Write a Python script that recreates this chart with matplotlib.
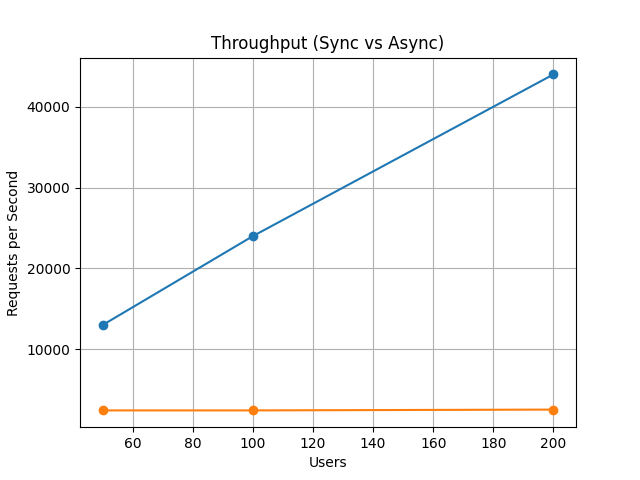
import matplotlib
matplotlib.use("Agg")
import matplotlib.pyplot as plt

users = [50, 100, 200]
sync_rps = [13000, 24000, 44000]
async_rps = [2450, 2450, 2550]

fig, ax = plt.subplots(figsize=(6.4, 4.8), dpi=100)
ax.plot(users, sync_rps, marker='o')
ax.plot(users, async_rps, marker='o')
ax.set_title("Throughput (Sync vs Async)")
ax.set_xlabel("Users")
ax.set_ylabel("Requests per Second")
ax.grid(True)
fig.savefig("out.png")
